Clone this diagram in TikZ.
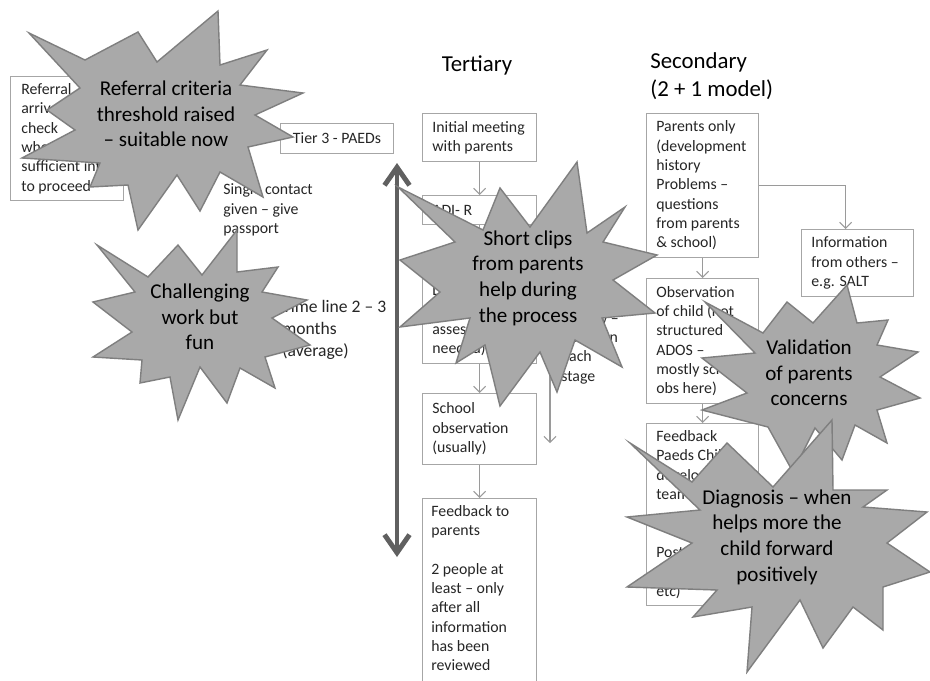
\documentclass[tikz,border=0pt]{standalone}
\usepackage{fontspec}
\setmainfont{Carlito}
\usetikzlibrary{arrows.meta}
\definecolor{boxline}{HTML}{A6A6A6}
\definecolor{conncol}{HTML}{9A9A9A}
\definecolor{starfill}{HTML}{A9A9A9}
\definecolor{starline}{HTML}{7F7F7F}
\definecolor{bigarrow}{HTML}{606060}
\definecolor{txtcol}{HTML}{262626}
\begin{document}
\begin{tikzpicture}[x=0.02cm,y=-0.02cm,
 box/.style={draw=boxline, line width=0.6pt, fill=white, inner sep=0pt, anchor=north west},
 btxt/.style={font=\fontsize{9}{11}\selectfont, align=left, inner sep=0pt, anchor=west, text=txtcol},
 conn/.style={draw=conncol, line width=0.6pt, -{Straight Barb[length=1.2mm,width=2.4mm]}},
 bigarr/.style={draw=bigarrow, line width=2.8pt, {Straight Barb[length=3.6mm,width=5mm]}-{Straight Barb[length=3.6mm,width=5mm]}},
 starshape/.style={fill=starfill, draw=starline, line width=0.8pt, line join=miter},
 startxt/.style={font=\fontsize{12}{14.6}\selectfont, align=center, inner sep=0pt, text=black},
 titletxt/.style={font=\fontsize{13}{16}\selectfont, align=left, inner sep=0pt, text=black},
 timetxt/.style={font=\fontsize{10}{12.7}\selectfont, align=left, inner sep=0pt, anchor=west, text=txtcol},
]
\useasboundingbox (0,0) rectangle (930,680);
\fill[white] (0,0) rectangle (930,680);

% titles
\node[titletxt] (ttert) at (477,65) {Tertiary};
\node[titletxt, anchor=west] (tsec) at (650,76) {Secondary\\(2 + 1 model)};

% left boxes
\node[box, minimum width=2.26cm, minimum height=2.48cm] (ref) at (10,76) {};
\node[btxt] (reft) at ([xshift=0.22cm]ref.west) {Referral\\arrives --\\check\\whether\\sufficient info\\to proceed};
\node[box, minimum width=2.26cm, minimum height=0.6cm] (tier) at (280,123) {};
\node[btxt, anchor=center] (tiert) at (tier.center) {Tier 3 - PAEDs};
\node[btxt] (single) at (223,210) {Single contact\\given -- give\\passport};
\node[timetxt] (timeline) at (282,330) {Time line 2 -- 3\\months\\(average)};

% tertiary column
\node[box, minimum width=2.28cm, minimum height=0.96cm] (b1) at (422,113) {};
\node[btxt] (b1t) at ([xshift=0.2cm]b1.west) {Initial meeting\\with parents};
\node[box, minimum width=2.28cm, minimum height=0.58cm] (b2) at (422,195) {};
\node[btxt] (b2t) at ([xshift=0.2cm]b2.west) {ADI- R};
\node[box, minimum width=2.28cm, minimum height=1.72cm] (b3) at (422,277) {};
\node[btxt] (b3t) at ([xshift=0.2cm]b3.west) {Liaison with\\school (if\\assessment\\needed)};
\node[box, minimum width=2.28cm, minimum height=1.42cm] (b4) at (422,393) {};
\node[btxt] (b4t) at ([xshift=0.2cm]b4.west) {School\\observation\\(usually)};
\node[box, minimum width=2.28cm, minimum height=4.4cm] (b5) at (422,498) {};
\node[btxt, anchor=north west] (b5t) at ([xshift=0.18cm,yshift=-0.14cm]b5.north west) {Feedback to\\parents\\\mbox{}\\2 people at\\least -- only\\after all\\information\\has been\\reviewed};
\node[btxt] (sidet) at (561,348) {Review --\\between\\each\\stage};
\coordinate (sdA) at (550,250);
\coordinate (sdB) at (550,443);

\draw[conn] (b1.south) -- (b2.north);
\draw[conn] (b2.south) -- (b3.north);
\draw[conn] (b3.south) -- (b4.north);
\draw[conn] (b4.south) -- (b5.north);
\draw[conn] (sdA) -- (sdB);

% secondary column
\node[box, minimum width=2.24cm, minimum height=2.88cm] (s1) at (646,113) {};
\node[btxt] (s1t) at ([xshift=0.2cm]s1.west) {Parents only\\(development\\history\\Problems --\\questions\\from parents\\\& school)};
\node[box, minimum width=2.24cm, minimum height=1.34cm] (s2) at (801,229) {};
\node[btxt] (s2t) at ([xshift=0.2cm]s2.west) {Information\\from others --\\e.g. SALT};
\node[box, minimum width=2.24cm, minimum height=2.5cm] (s3) at (646,278) {};
\node[btxt] (s3t) at ([xshift=0.2cm]s3.west) {Observation\\of child (not\\structured\\ADOS --\\mostly school\\obs here)};
\node[box, minimum width=2.24cm, minimum height=3.64cm] (s4) at (646,423) {};
\node[btxt] (s4t) at ([xshift=0.2cm]s4.west) {Feedback\\Paeds Child\\development\\team\\\mbox{}\\\mbox{}\\Post diag\\support\\etc)};

\draw[conn] (s1.south) -- (s3.north);
\draw[conn] (s3.south) -- (s4.north);
\draw[conn] (s1.east) -| ([xshift=-0.24cm]s2.north);

% time line arrow
\coordinate (tlA) at (397,163);
\coordinate (tlB) at (397,557);
\draw[bigarr] (tlA) -- (tlB);

% stars
\draw[starshape] (29,33) -- (85,60) -- (138,32) -- (157,62) -- (218,11) -- (220,65) -- (267,50) -- (240,85) -- (303,93) -- (255,115) -- (293,137) -- (248,147) -- (263,197) -- (220,172) -- (200,211) -- (177,175) -- (138,230) -- (128,185) -- (90,187) -- (100,163) -- (22,158) -- (75,130) -- (47,110) -- (80,88) -- cycle;
\node[startxt] (st1) at (166,114) {Referral criteria\\threshold raised\\-- suitable now};

\draw[starshape] (97,245) -- (148,277) -- (178,245) -- (202,275) -- (237,230) -- (237,272) -- (278,267) -- (262,292) -- (307,300) -- (272,318) -- (310,345) -- (265,357) -- (275,388) -- (240,368) -- (227,403) -- (200,367) -- (178,420) -- (170,377) -- (140,383) -- (142,360) -- (93,357) -- (132,332) -- (93,302) -- (135,292) -- cycle;
\node[startxt] (st2) at (200,317) {Challenging\\work but\\fun};

\draw[starshape] (398,187) -- (483,230) -- (500,188) -- (530,227) -- (577,162) -- (587,233) -- (625,207) -- (603,242) -- (657,255) -- (613,280) -- (655,313) -- (602,318) -- (622,367) -- (575,340) -- (557,392) -- (540,352) -- (500,406) -- (485,345) -- (456,363) -- (470,318) -- (400,327) -- (440,292) -- (400,260) -- (455,242) -- cycle;
\node[startxt] (st3) at (528,278) {Short clips\\from parents\\help during\\the process};

\draw[starshape] (847,285) -- (857,323) -- (888,320) -- (877,345) -- (918,352) -- (880,377) -- (920,398) -- (877,410) -- (887,443) -- (855,425) -- (842,460) -- (815,428) -- (793,472) -- (768,427) -- (702,410) -- (747,393) -- (702,358) -- (755,353) -- (705,302) -- (763,333) -- (787,302) -- (813,323) -- cycle;
\node[startxt] (st4) at (809,373) {Validation\\of parents\\concerns};

\draw[starshape] (630,443) -- (692,482) -- (727,443) -- (773,487) -- (832,420) -- (833,490) -- (887,490) -- (863,507) -- (927,512) -- (887,543) -- (930,572) -- (883,587) -- (883,630) -- (853,607) -- (823,648) -- (800,600) -- (747,672) -- (752,607) -- (693,617) -- (717,590) -- (627,587) -- (692,543) -- (627,517) -- (700,510) -- cycle;
\node[startxt] (st5) at (777,537) {Diagnosis -- when\\helps more the\\child forward\\positively};
\end{tikzpicture}
\end{document}
